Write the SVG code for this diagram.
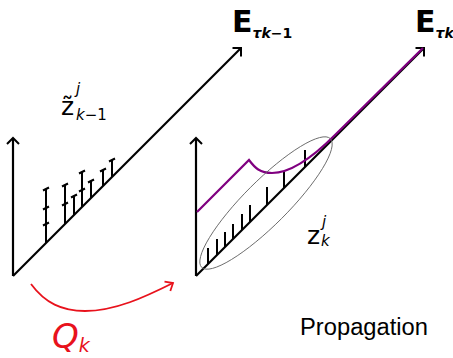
<svg xmlns="http://www.w3.org/2000/svg" width="453" height="358" viewBox="0 0 453 358">
<style>
.ax{fill:none;stroke:#000;stroke-width:2.2;marker-end:url(#ah)}
.tk{fill:none;stroke:#000;stroke-width:2}
.lbl{font-family:"DejaVu Sans",sans-serif;fill:#000}
.it{font-style:italic}
</style>
<defs>
<marker id="ah" markerUnits="userSpaceOnUse" markerWidth="20" markerHeight="20" viewBox="-10 -10 20 20" refX="0" refY="0" orient="auto" overflow="visible">
<path d="M-6,-6 L0,0 L-6,6" fill="none" stroke="#000" stroke-width="2"/>
</marker>
<marker id="rh" markerUnits="userSpaceOnUse" markerWidth="20" markerHeight="20" viewBox="-10 -10 20 20" refX="0" refY="0" orient="auto" overflow="visible">
<path d="M-7,-5 L0,0 L-6,6" fill="none" stroke="#e8121c" stroke-width="1.8"/>
</marker>
</defs>
<rect width="453" height="358" fill="#fff"/>

<g id="left-axes">
<path class="ax" d="M13,276 L13,138"/>
<path class="ax" d="M13,276 L241,48"/>
</g>
<g id="left-ticks" class="tk">
<path d="M46,243 V189 M43,190.5 L49,187.5 M43,209.5 L49,206.5 M43,225.5 L49,222.5"/>
<path d="M65,224 V185 M62,186.5 L68,183.5 M62,205.5 L68,202.5"/>
<path d="M74,215 V196 M71,197.5 L77,194.5"/>
<path d="M82,207 V172 M79,173.5 L85,170.5 M79,191.5 L85,188.5"/>
<path d="M91,198 V181 M88,182.5 L94,179.5"/>
<path d="M103,186 V170 M100,171.5 L106,168.5"/>
<path d="M112,177 V160 M109,161.5 L115,158.5"/>
</g>

<g id="right-axes">
<path class="ax" d="M196,276 L196,138"/>
<path class="ax" d="M196,276 L424,48"/>
</g>
<g id="right-ticks" class="tk">
<path d="M208,264 V248 M217,255 V239 M225,247 V232 M233,239 V224 M242,230 V214 M250,222 V205 M267,205 V187 M284,188 V171 M305,167 V150"/>
</g>
<path id="estimate" d="M197,212 L249,160 C255,168 260,173 272,173 C290,173 310,160 335,135 L423,48" fill="none" stroke="#800080" stroke-width="2.2"/>
<ellipse id="ensemble" cx="266" cy="203" rx="91" ry="22" transform="rotate(-45 266 203)" fill="none" stroke="#666" stroke-width="0.9"/>

<g id="labels">
<text class="lbl" x="232" y="32" font-size="30" font-weight="bold">E<tspan font-size="14" dy="6"><tspan class="it">τ</tspan><tspan class="it">k</tspan>−1</tspan></text>
<text class="lbl" x="415" y="32" font-size="30" font-weight="bold">E<tspan font-size="14" dy="6"><tspan class="it">τ</tspan><tspan class="it">k</tspan></tspan></text>
<text class="lbl" font-size="25"><tspan x="61" y="115">z̃</tspan><tspan class="it" font-size="15" x="76" y="94">j</tspan><tspan font-size="15" x="76" y="120"><tspan class="it">k</tspan>−1</tspan></text>
<text class="lbl" font-size="25"><tspan x="307" y="244">z</tspan><tspan class="it" font-size="15" x="322" y="227">j</tspan><tspan class="it" font-size="15" x="321" y="246">k</tspan></text>
<text class="lbl" x="300" y="335" font-size="23.5" style="font-family:'Liberation Sans',sans-serif" textLength="128" lengthAdjust="spacingAndGlyphs">Propagation</text>
</g>

<g id="connectors">
<path d="M31,284 C45,303 62,311 85,311 C115,311 145,297 173,283" fill="none" stroke="#e8121c" stroke-width="1.8" marker-end="url(#rh)"/>
<text x="52" y="348" font-size="34" fill="#e8121c" style="font-family:'DejaVu Sans',sans-serif;font-style:italic">Q<tspan font-size="19" dy="4">k</tspan></text>
</g>
</svg>
